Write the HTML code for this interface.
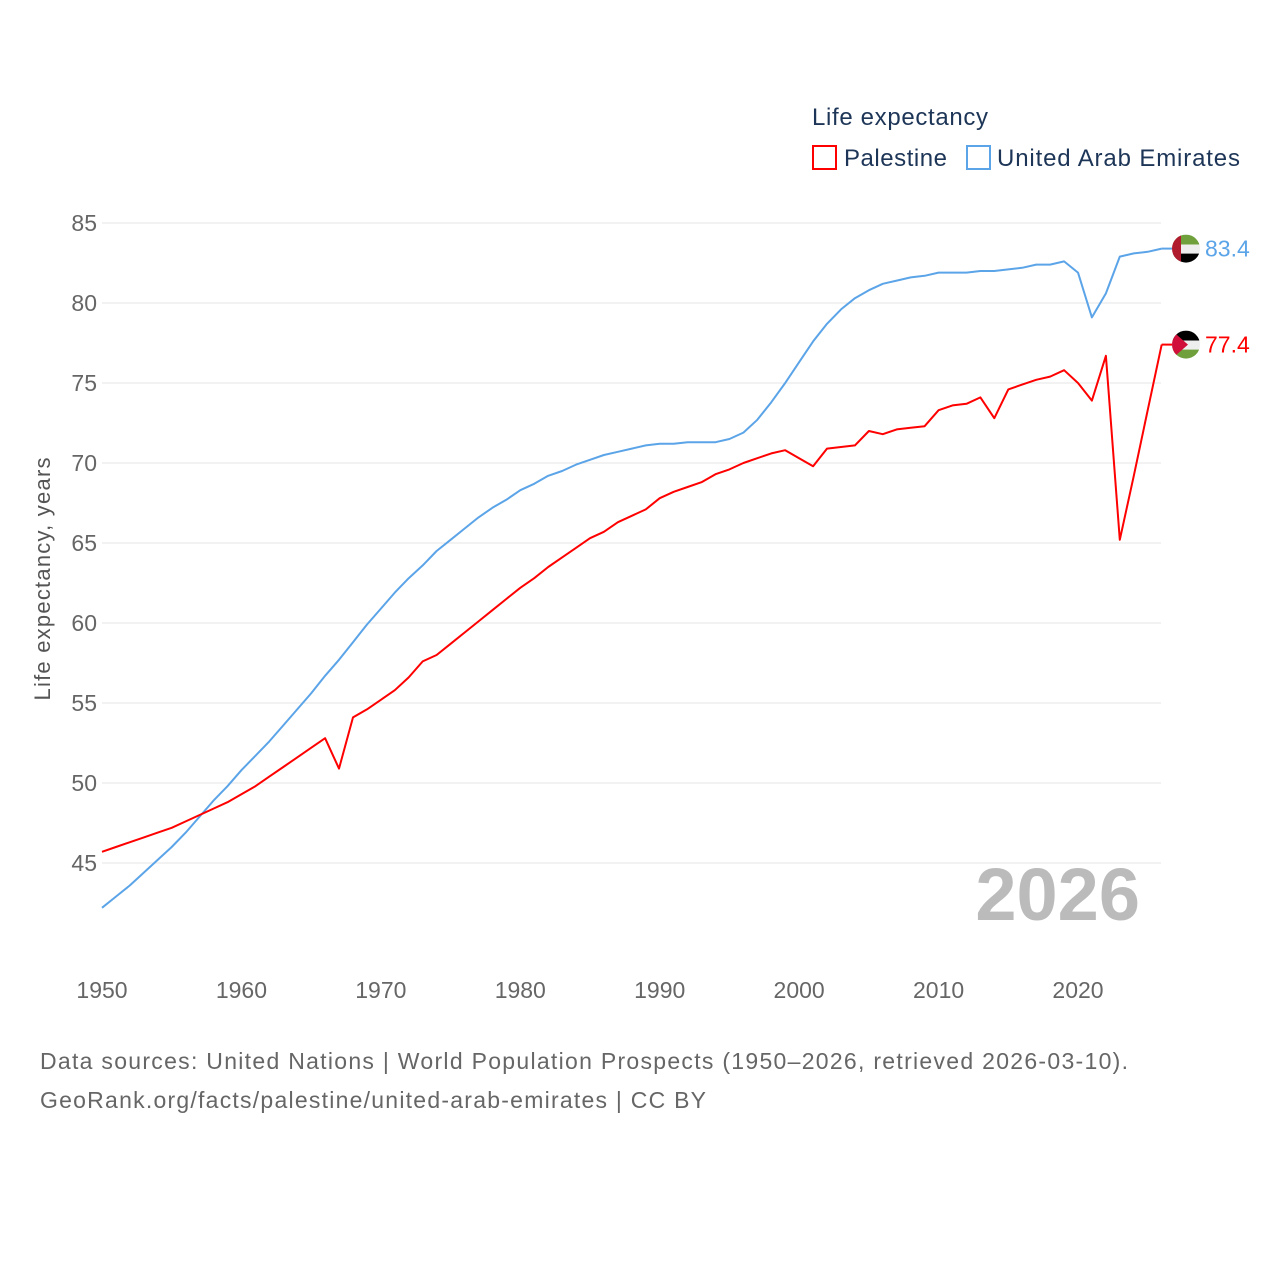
<!DOCTYPE html>
<html><head><meta charset="utf-8"><style>
body{margin:0;background:#fff;font-family:"Liberation Sans",sans-serif}
svg text{font-family:"Liberation Sans",sans-serif}
</style></head><body>
<svg id="chart" width="1280" height="1280" viewBox="0 0 1280 1280">
<defs><clipPath id="cu"><circle cx="1186" cy="248" r="14"/></clipPath><clipPath id="cp"><circle cx="1186" cy="344" r="14"/></clipPath></defs>
<text x="812" y="125" font-size="24" fill="#1d3557" textLength="176">Life expectancy</text>
<g><rect x="813" y="146" width="23" height="23" fill="none" stroke="#f00" stroke-width="2"/><text x="844" y="166" font-size="24" fill="#1d3557" textLength="103">Palestine</text></g>
<g><rect x="967" y="146" width="23" height="23" fill="none" stroke="#5ba4e8" stroke-width="2"/><text x="997" y="166" font-size="24" fill="#1d3557" textLength="243">United Arab Emirates</text></g>
<g id="grid"></g>
<g id="yticks"></g>
<g id="xticks"></g>
<text transform="translate(50,579) rotate(-90)" text-anchor="middle" font-size="22" fill="#555" textLength="243">Life expectancy, years</text>
<text x="1140" y="920" text-anchor="end" font-size="74" font-weight="bold" fill="#bbb">2026</text>
<g id="series"></g>
<text x="40" y="1069" font-size="23" fill="#666" textLength="1088">Data sources: United Nations | World Population Prospects (1950–2026, retrieved 2026-03-10).</text>
<text x="40" y="1108" font-size="23" fill="#666" textLength="666">GeoRank.org/facts/palestine/united-arab-emirates | CC BY</text>
</svg>
<script>
const years=[];for(let y=1950;y<=2026;y++)years.push(y);
const uae=[42.2,42.9,43.6,44.4,45.2,46.0,46.9,47.9,48.9,49.8,50.8,51.7,52.6,53.6,54.6,55.6,56.7,57.7,58.8,59.9,60.9,61.9,62.8,63.6,64.5,65.2,65.9,66.6,67.2,67.7,68.3,68.7,69.2,69.5,69.9,70.2,70.5,70.7,70.9,71.1,71.2,71.2,71.3,71.3,71.3,71.5,71.9,72.7,73.8,75.0,76.3,77.6,78.7,79.6,80.3,80.8,81.2,81.4,81.6,81.7,81.9,81.9,81.9,82.0,82.0,82.1,82.2,82.4,82.4,82.6,81.9,79.1,80.6,82.9,83.1,83.2,83.4];
const palestine=[45.7,46.0,46.3,46.6,46.9,47.2,47.6,48.0,48.4,48.8,49.3,49.8,50.4,51.0,51.6,52.2,52.8,50.9,54.1,54.6,55.2,55.8,56.6,57.6,58.0,58.7,59.4,60.1,60.8,61.5,62.2,62.8,63.5,64.1,64.7,65.3,65.7,66.3,66.7,67.1,67.8,68.2,68.5,68.8,69.3,69.6,70.0,70.3,70.6,70.8,70.3,69.8,70.9,71.0,71.1,72.0,71.8,72.1,72.2,72.3,73.3,73.6,73.7,74.1,72.8,74.6,74.9,75.2,75.4,75.8,75.0,73.9,76.7,65.2,69.2,73.3,77.4];
const yTicks=[45,50,55,60,65,70,75,80,85];
const xTicks=[1950,1960,1970,1980,1990,2000,2010,2020];
const X=y=>102+(y-1950)*976/70;
const Y=v=>223+(85-v)*16;
const NS="http://www.w3.org/2000/svg";
function mk(t,a,p){const e=document.createElementNS(NS,t);for(const k in a)e.setAttribute(k,a[k]);p.appendChild(e);return e;}
const grid=document.getElementById('grid'),yt=document.getElementById('yticks'),xt=document.getElementById('xticks'),ser=document.getElementById('series');
yTicks.forEach(v=>{
 const l=mk('line',{x1:102,x2:1161,y1:Y(v),y2:Y(v),stroke:'#e6e6e6','stroke-width':1},grid);
 
 
 const t=mk('text',{x:97,y:Y(v)+8,'text-anchor':'end','font-size':23,fill:'#666'},yt);t.textContent=v;
 
 
});
xTicks.forEach(v=>{
 const t=mk('text',{x:X(v),y:998,'text-anchor':'middle','font-size':23,fill:'#666'},xt);t.textContent=v;
 
 
});
function line(vals,col,name){
 const d=vals.map((v,i)=>(i?'L':'M')+X(years[i]).toFixed(1)+','+Y(v).toFixed(1)).join('');
 const p=mk('path',{d:d,fill:'none',stroke:col,'stroke-width':2,'stroke-linejoin':'round'},ser);
 
 
 const last=vals[vals.length-1],cy=Y(last);
 mk('line',{x1:X(2026),x2:1172,y1:cy,y2:cy,stroke:col,'stroke-width':2},ser);
 const cp=document.getElementById(name==='uae'?'cu':'cp').firstChild;
 cp.setAttribute('cy',cy);
 const g=mk('g',{'clip-path':name==='uae'?'url(#cu)':'url(#cp)'},ser);
 
 
 if(name==='uae'){
  mk('rect',{x:1172,y:cy-14,width:28,height:10,fill:'#6fa03c'},g);
  mk('rect',{x:1172,y:cy-4,width:28,height:9,fill:'#eee'},g);
  mk('rect',{x:1172,y:cy+5,width:28,height:10,fill:'#000'},g);
  mk('rect',{x:1172,y:cy-14,width:9,height:28,fill:'#b01c2e'},g);
 }else{
  mk('rect',{x:1172,y:cy-14,width:28,height:10,fill:'#000'},g);
  mk('rect',{x:1172,y:cy-4,width:28,height:9,fill:'#eee'},g);
  mk('rect',{x:1172,y:cy+5,width:28,height:10,fill:'#6fa03c'},g);
  mk('path',{d:`M1172,${cy-14}L1188,${cy}L1172,${cy+14}Z`,fill:'#d0103a'},g);
 }
 const t=mk('text',{x:1205,y:cy+8,'font-size':23,fill:col},ser);t.textContent=last.toFixed(1);
 
 
}
line(uae,'#5ba4e8','uae');
line(palestine,'#f00','palestine');
</script>
</body></html>
